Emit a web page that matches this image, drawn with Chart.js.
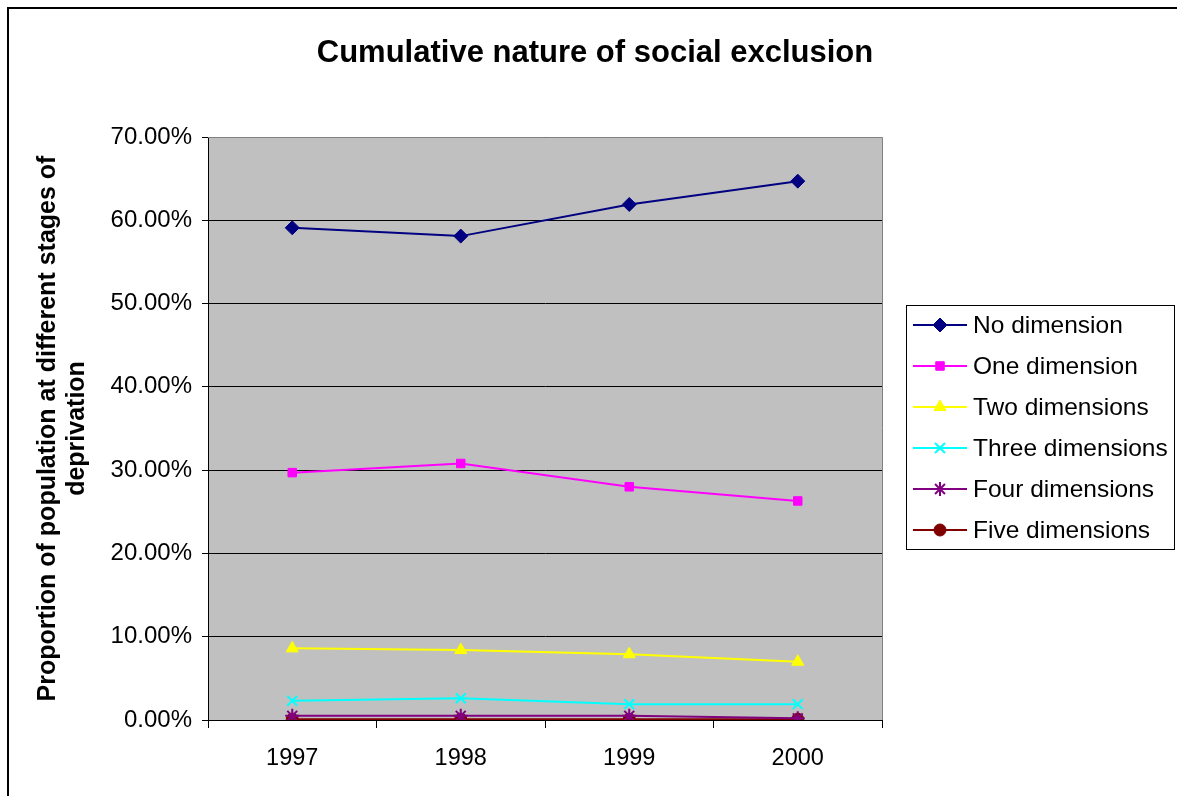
<!DOCTYPE html>
<html><head><meta charset="utf-8">
<script src="https://cdn.jsdelivr.net/npm/chart.js@4/dist/chart.umd.min.js"></script>
<style>html,body{margin:0;padding:0;background:#fff}#wrap{width:1177px;height:796px}</style>
</head><body><div id="wrap"><canvas id="c" width="1177" height="796"></canvas></div>
<script>
const years = ['1997','1998','1999','2000'];
const noDimension = [59.1, 58.1, 61.9, 64.7];
const oneDimension = [29.7, 30.8, 28.0, 26.3];
const twoDimensions = [8.6, 8.4, 7.9, 7.0];
const threeDimensions = [2.3, 2.6, 1.9, 1.9];
const fourDimensions = [0.5, 0.5, 0.5, 0.2];
const fiveDimensions = [0.1, 0.1, 0.1, 0.1];
const seriesNames = ['No dimension','One dimension','Two dimensions','Three dimensions','Four dimensions','Five dimensions'];
const yTicks = [0,10,20,30,40,50,60,70];
const chartTitle = 'Cumulative nature of social exclusion';
const yTitle = ['Proportion of population at different stages of','deprivation'];

const FONT = '"Liberation Sans", Arial, sans-serif';
const styles = [
  {c:'#000080', p:'rectRot', r:7},
  {c:'#FF00FF', p:'rect', r:6},
  {c:'#FFFF00', p:'triangle', r:7},
  {c:'#00FFFF', p:'crossRot', r:7},
  {c:'#800080', p:'star', r:7},
  {c:'#800000', p:'circle', r:6}
];
const values = [noDimension, oneDimension, twoDimensions, threeDimensions, fourDimensions, fiveDimensions];
const datasets = values.map((v,i)=>({
  label: seriesNames[i], data: v,
  borderColor: styles[i].c, backgroundColor: styles[i].c,
  pointStyle: styles[i].p, pointRadius: styles[i].r, pointHoverRadius: styles[i].r,
  pointBorderColor: styles[i].c, pointBackgroundColor: styles[i].c,
  pointBorderWidth: (styles[i].p==='crossRot'||styles[i].p==='star')?2:1,
  borderWidth: 2, tension: 0
}));

const framePlugin = {
  id:'frame',
  beforeDraw(chart){
    const ctx = chart.ctx, a = chart.chartArea;
    ctx.save();
    ctx.fillStyle = '#fff'; ctx.fillRect(0,0,chart.width,chart.height);
    ctx.strokeStyle = '#000'; ctx.lineWidth = 2;
    ctx.strokeRect(8, 8, 1300, 1000);
    ctx.fillStyle = '#C0C0C0';
    ctx.fillRect(a.left, a.top, a.right-a.left, a.bottom-a.top);
    ctx.fillStyle = '#000';
    ctx.font = 'bold 31px ' + FONT;
    ctx.textAlign = 'center'; ctx.textBaseline = 'middle';
    ctx.fillText(chartTitle, 595, 53);
    ctx.restore();
  },
  beforeDatasetsDraw(chart){
    const ctx = chart.ctx, a = chart.chartArea;
    ctx.save();
    ctx.strokeStyle = '#808080'; ctx.lineWidth = 1;
    ctx.beginPath();
    ctx.moveTo(a.left, a.top+0.5); ctx.lineTo(a.right+0.5, a.top+0.5); ctx.lineTo(a.right+0.5, a.bottom);
    ctx.stroke();
    ctx.restore();
  },
  afterDraw(chart){
    const ctx = chart.ctx;
    const bx = 906, by = 305, bw = 268, bh = 244;
    ctx.save();
    ctx.fillStyle = '#fff'; ctx.fillRect(bx,by,bw,bh);
    ctx.strokeStyle = '#000'; ctx.lineWidth = 1;
    ctx.strokeRect(bx+0.5, by+0.5, bw, bh);
    ctx.font = '24.5px ' + FONT;
    ctx.textBaseline = 'middle';
    chart.data.datasets.forEach((ds,i)=>{
      const y = 325 + i*41;
      ctx.strokeStyle = ds.borderColor; ctx.lineWidth = 2;
      ctx.beginPath(); ctx.moveTo(913,y); ctx.lineTo(967,y); ctx.stroke();
      ctx.fillStyle = ds.pointBackgroundColor; ctx.strokeStyle = ds.pointBorderColor;
      ctx.lineWidth = ds.pointBorderWidth;
      Chart.helpers.drawPoint(ctx, {pointStyle: ds.pointStyle, radius: ds.pointRadius, borderWidth: ds.pointBorderWidth, rotation:0}, 940, y);
      ctx.fillStyle = '#000';
      ctx.fillText(ds.label, 973, y+1);
    });
    ctx.restore();
  }
};

new Chart(document.getElementById('c'), {
  type:'line',
  data:{labels: years, datasets},
  options:{
    responsive:false, animation:false,
    layout:{padding:{left:0, right:295, top:137, bottom:0}},
    plugins:{
      legend:{display:false},
      tooltip:{enabled:false},
      title:{display:false}
    },
    scales:{
      x:{
        offset:true,
        grid:{display:true, drawOnChartArea:false, offset:true, color:'#000', tickLength:8, tickWidth:1},
        border:{display:true, color:'#000', width:1},
        ticks:{color:'#000', font:{family:FONT, size:23.5}, padding:16},
        afterFit(s){ s.height = 76; }
      },
      y:{
        min:0, max:70,
        afterBuildTicks(s){ s.ticks = yTicks.map(v=>({value:v})); },
        grid:{color:'#000', lineWidth:1, tickLength:6},
        border:{display:true, color:'#000', width:1},
        ticks:{color:'#000', font:{family:FONT, size:24}, padding:10, callback:v=>Number(v).toFixed(2)+'%'},
        title:{display:true, text:yTitle, color:'#000',
          font:{family:FONT, size:25, weight:'bold', lineHeight:1.18}, padding:{top:33, bottom:0}},
        afterFit(s){ s.width = 208; }
      }
    }
  },
  plugins:[framePlugin]
});
</script>
</body></html>
